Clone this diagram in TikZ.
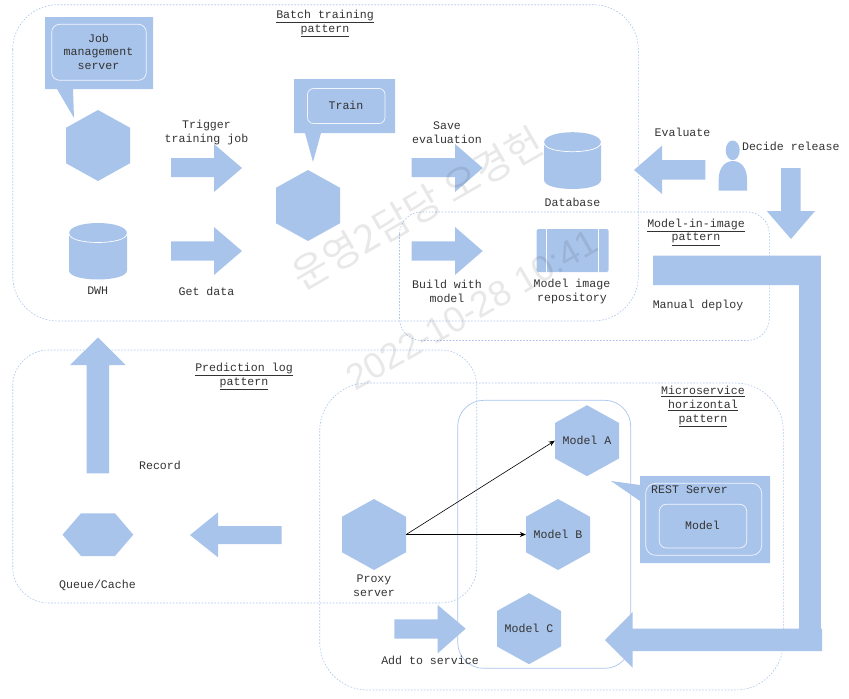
\documentclass[tikz,border=0pt]{standalone}
\usepackage{fontspec}
\setmainfont{Liberation Mono}
\newfontfamily\cjkwm{Noto Sans CJK KR}
\newfontfamily\sanswm{Liberation Sans}
\usetikzlibrary{arrows.meta}
\definecolor{blu}{HTML}{A9C4EB}
\tikzset{
  shapefill/.style={fill=blu,draw=none},
  groupbox/.style={draw=blu,line width=0.6pt,dash pattern=on 1.6pt off 1.6pt,rounded corners=#1},
  innerbox/.style={draw=white!85!blu,line width=0.7pt,rounded corners=#1},
  rim/.style={draw=white,line width=0.7pt},
  lbl/.style={align=center,inner sep=0pt,font=\fontsize{11.6}{13.8}\selectfont,text=black!80},
  conn/.style={draw=black,line width=0.6pt,-{Stealth[length=6pt,width=5pt]}},
  wm/.style={inner sep=0pt,rotate=30,text=black,opacity=0.09},
}
\newcommand{\hexa}[6]{%
  \fill[shapefill] (#2,#3-#5/2) -- (#2+#4/2,#3-#5/4) -- (#2+#4/2,#3+#5/4) -- (#2,#3+#5/2) -- (#2-#4/2,#3+#5/4) -- (#2-#4/2,#3-#5/4) -- cycle;
  \node[lbl,minimum width=#4*1pt,minimum height=#5*1pt] (#1) at (#2,#3) {#6};}
\newcommand{\cyl}[5]{% name, x0, x1, y0, y1
  \fill[shapefill] (#2,#4+11) .. controls (#2,#4-3) and (#3,#4-3) .. (#3,#4+11) -- (#3,#5-9) .. controls (#3,#5+3) and (#2,#5+3) .. (#2,#5-9) -- cycle;
  \draw[rim] (#2,#4+11) .. controls (#2,#4+23) and (#3,#4+23) .. (#3,#4+11);
  \coordinate (#1) at ({(#2+#3)/2},{(#4+#5)/2});}
\begin{document}
\begin{tikzpicture}[x=1pt,y=-1pt]
\useasboundingbox (0,0) rectangle (849,699);
% groups
\draw[groupbox=45pt] (12.7,4.7) rectangle (638.3,321);
\draw[groupbox=22pt] (399.5,212) rectangle (769.3,340.5);
\draw[groupbox=36pt] (12.7,350) rectangle (476.7,603);
\draw[groupbox=48pt] (319.7,383) rectangle (783.3,690);
\draw[draw=blu,line width=0.7pt,rounded corners=26pt] (457.7,400.3) rectangle (630.7,668.3);
% callouts
\fill[shapefill] (45,17) -- (153,17) -- (153,89) -- (73,89) -- (74,118) -- (57,89) -- (45,89) -- cycle;
\draw[innerbox=8pt] (51.7,24.3) rectangle (146.3,80.3);
\node[lbl] (jobtxt) at (98.5,51.7) {Job\\management\\server};
\fill[shapefill] (294,79) -- (395,79) -- (395,133) -- (321,133) -- (313,162) -- (305,133) -- (294,133) -- cycle;
\draw[innerbox=6pt] (307.5,88.5) rectangle (385,123.5);
\node[lbl] (traintxt) at (346,105.5) {Train};
\fill[shapefill] (640,476) -- (770,476) -- (770,563) -- (640,563) -- (640,501) -- (611,481) -- (640,485) -- cycle;
\draw[innerbox=10pt] (645.7,483.3) rectangle (761.7,555.3);
\draw[innerbox=7pt] (659.3,504.3) rectangle (746.7,548);
\node[lbl,anchor=west] (resttxt) at (651,489.5) {REST Server};
\node[lbl] (modeltxt) at (702.5,525.5) {Model};
% hexagons
\hexa{job}{98}{145.5}{64}{71}{}
\hexa{trainhex}{308}{205.5}{64}{71}{}
\hexa{proxy}{374}{534.5}{64}{71}{}
\hexa{ma}{587}{440.7}{64}{71}{Model A}
\hexa{mb}{558}{534.5}{64}{71}{Model B}
\hexa{mc}{529}{628.7}{64}{71}{Model C}
\fill[shapefill] (62.5,534.7) -- (81,513.3) -- (115,513.3) -- (133.3,534.7) -- (115,556) -- (81,556) -- cycle;
\node[inner sep=0pt,minimum width=70pt,minimum height=43pt] (queue) at (98,534.7) {};
% cylinders
\cyl{dwh}{69}{127}{222.5}{279.5}
\cyl{db}{544}{601}{131.7}{189}
% repository
\fill[shapefill,rounded corners=1.5pt] (536.7,229) rectangle (608.7,272);
\draw[rim] (546.7,229) -- (546.7,272) (598.3,229) -- (598.3,272);
% person
\fill[shapefill] (732.7,150.3) ellipse (7 and 9.8);
\fill[shapefill] (718.7,190.7) -- (718.7,179) .. controls (718.7,168) and (725,161) .. (732.9,161) .. controls (741,161) and (747,168) .. (747,179) -- (747,190.7) -- cycle;
% block arrows
\fill[shapefill] (171,158) -- (214,158) -- (214,144) -- (242,168) -- (214,192) -- (214,177) -- (171,177) -- cycle;
\fill[shapefill] (171,241.3) -- (214,241.3) -- (214,227) -- (242,251) -- (214,275) -- (214,260.7) -- (171,260.7) -- cycle;
\fill[shapefill] (411.7,158) -- (455,158) -- (455,144) -- (482.7,168) -- (455,192) -- (455,177) -- (411.7,177) -- cycle;
\fill[shapefill] (411.7,241.3) -- (455,241.3) -- (455,227) -- (482.7,251) -- (455,275) -- (455,260.7) -- (411.7,260.7) -- cycle;
\fill[shapefill] (705.3,160) -- (662,160) -- (662,145.7) -- (634,170) -- (662,194) -- (662,179.5) -- (705.3,179.5) -- cycle;
\fill[shapefill] (781,168) -- (800.7,168) -- (800.7,211) -- (815,211) -- (791,239) -- (766.7,211) -- (781,211) -- cycle;
\fill[shapefill] (653,255.7) -- (820.8,255.7) -- (820.8,628.7) -- (822,628.7) -- (822,651) -- (632.7,651) -- (632.7,667.7) -- (605,640) -- (632.7,612) -- (632.7,628.7) -- (799,628.7) -- (799,285) -- (653,285) -- cycle;
\fill[shapefill] (86.7,473.3) -- (86.7,365) -- (70,365) -- (98,337.5) -- (125.7,365) -- (109,365) -- (109,473.3) -- cycle;
\fill[shapefill] (281.7,526) -- (218,526) -- (218,512.3) -- (190,535) -- (218,557.3) -- (218,544) -- (281.7,544) -- cycle;
\fill[shapefill] (394.3,619.3) -- (437.7,619.3) -- (437.7,605) -- (465.7,628.7) -- (437.7,653.3) -- (437.7,638.7) -- (394.3,638.7) -- cycle;
% connectors
\draw[conn] (proxy.east) -- (ma.west);
\draw[conn] (proxy.east) -- (mb.west);
% labels
\node[lbl] (l1) at (325,23.5) {\underline{Batch training}\\\underline{pattern}};
\node[lbl] (l2) at (206.5,132.5) {Trigger\\training job};
\node[lbl] (l3) at (97.7,291) {DWH};
\node[lbl] (l4) at (206.5,291) {Get data};
\node[lbl] (l5) at (447,132.5) {Save\\evaluation};
\node[lbl] (l6) at (572.5,202.5) {Database};
\node[lbl] (l7) at (682.5,132.5) {Evaluate};
\node[lbl] (l8) at (790.8,146.5) {Decide release};
\node[lbl] (l9) at (447,291.5) {Build with\\model};
\node[lbl] (l10) at (572,291.5) {Model image\\repository};
\node[lbl] (l11) at (696,232) {\underline{Model-in-image}\\\underline{pattern}};
\node[lbl] (l12) at (698,305.5) {Manual deploy};
\node[lbl] (l13) at (244,376.5) {\underline{Prediction log}\\\underline{pattern}};
\node[lbl] (l14) at (160,465.5) {Record};
\node[lbl] (l15) at (97.5,585.5) {Queue/Cache};
\node[lbl] (l16) at (374,586) {Proxy\\server};
\node[lbl] (l17) at (430,660.5) {Add to service};
\node[lbl] (l18) at (703,406.5) {\underline{Microservice}\\\underline{horizontal}\\\underline{pattern}};
% watermark
\node[wm,font=\fontsize{39}{39}\cjkwm] (w1) at (417,208) {운영2담당 오경헌};
\node[wm,font=\fontsize{36}{36}\sanswm] (w2) at (472,310) {2022-10-28 10:41};
\end{tikzpicture}
\end{document}
